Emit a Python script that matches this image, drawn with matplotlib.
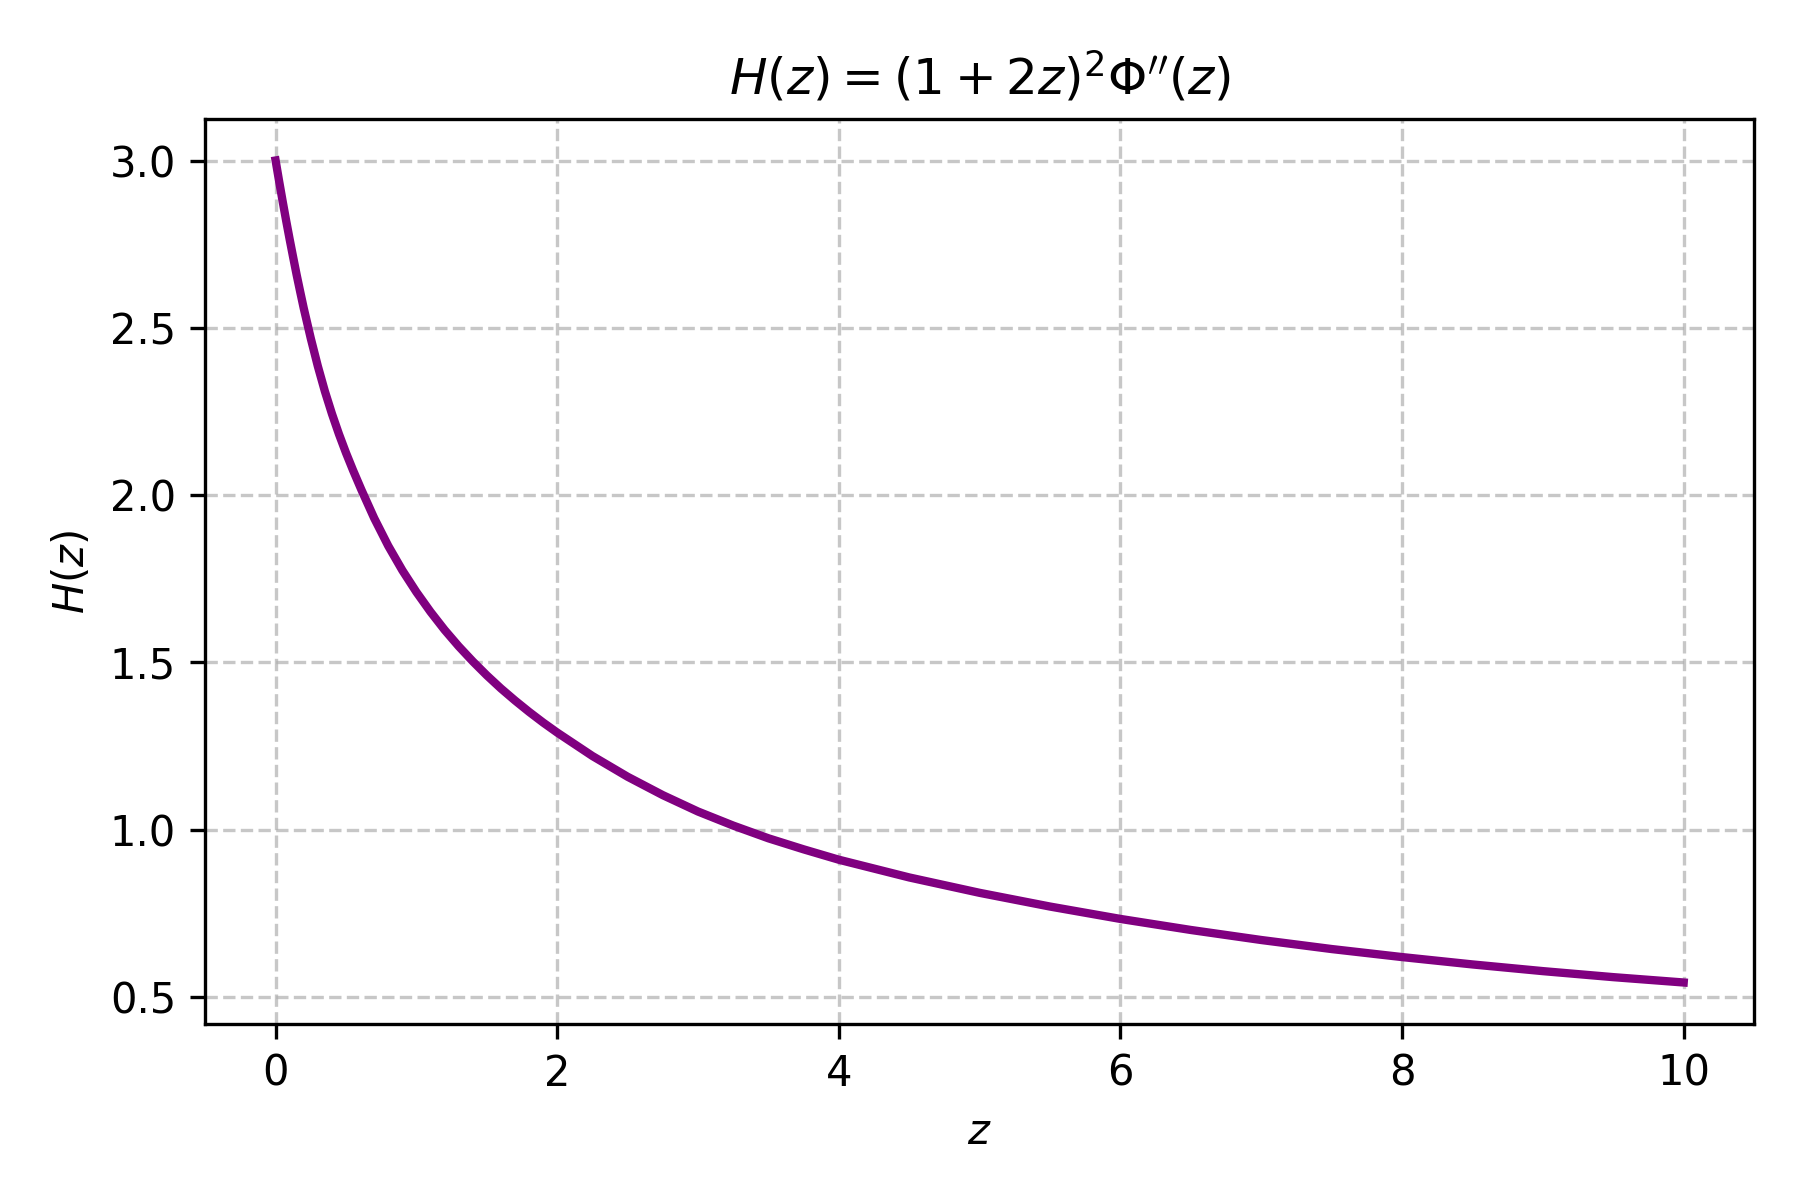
import numpy as np
import matplotlib
matplotlib.use("Agg")
import matplotlib.pyplot as plt

# values (denser where it bends most)
z = [0.0, 0.025, 0.05, 0.075, 0.1, 0.125, 0.15, 0.175, 0.2, 0.25, 0.3, 0.35,
     0.4, 0.45, 0.5, 0.55, 0.61, 0.7, 0.8, 0.9, 1.0, 1.1, 1.2, 1.3, 1.4,
     1.5, 1.6, 1.7, 1.8, 1.9, 2.0, 2.25, 2.5, 2.75, 3.0, 3.25, 3.5, 3.75,
     4.0, 4.5, 5.0, 5.5, 6.0, 6.5, 7.0, 7.5, 8.0, 8.5, 9.0, 9.5, 10.0]
H = [3.000, 2.938, 2.878, 2.820, 2.764, 2.710, 2.657, 2.607, 2.558, 2.468,
     2.385, 2.310, 2.243, 2.182, 2.126, 2.074, 2.015, 1.931, 1.848, 1.775,
     1.710, 1.651, 1.597, 1.548, 1.503, 1.461, 1.422, 1.386, 1.352, 1.320,
     1.290, 1.220, 1.158, 1.103, 1.054, 1.012, 0.974, 0.941, 0.910, 0.857,
     0.811, 0.770, 0.733, 0.700, 0.670, 0.643, 0.619, 0.597, 0.577, 0.559,
     0.543]

fig = plt.figure(figsize=(6, 4), dpi=300)
plt.plot(z, H, color='purple', linewidth=2)
plt.title(r'$H(z) = (1 + 2z)^2 \Phi^{\prime\prime}(z)$')
plt.xlabel(r'$z$')
plt.ylabel(r'$H(z)$')
plt.grid(True, linestyle='--', alpha=0.7)
plt.subplots_adjust(left=0.114, right=0.9745, top=0.9005, bottom=0.147)
plt.savefig('out.png', dpi=300)
